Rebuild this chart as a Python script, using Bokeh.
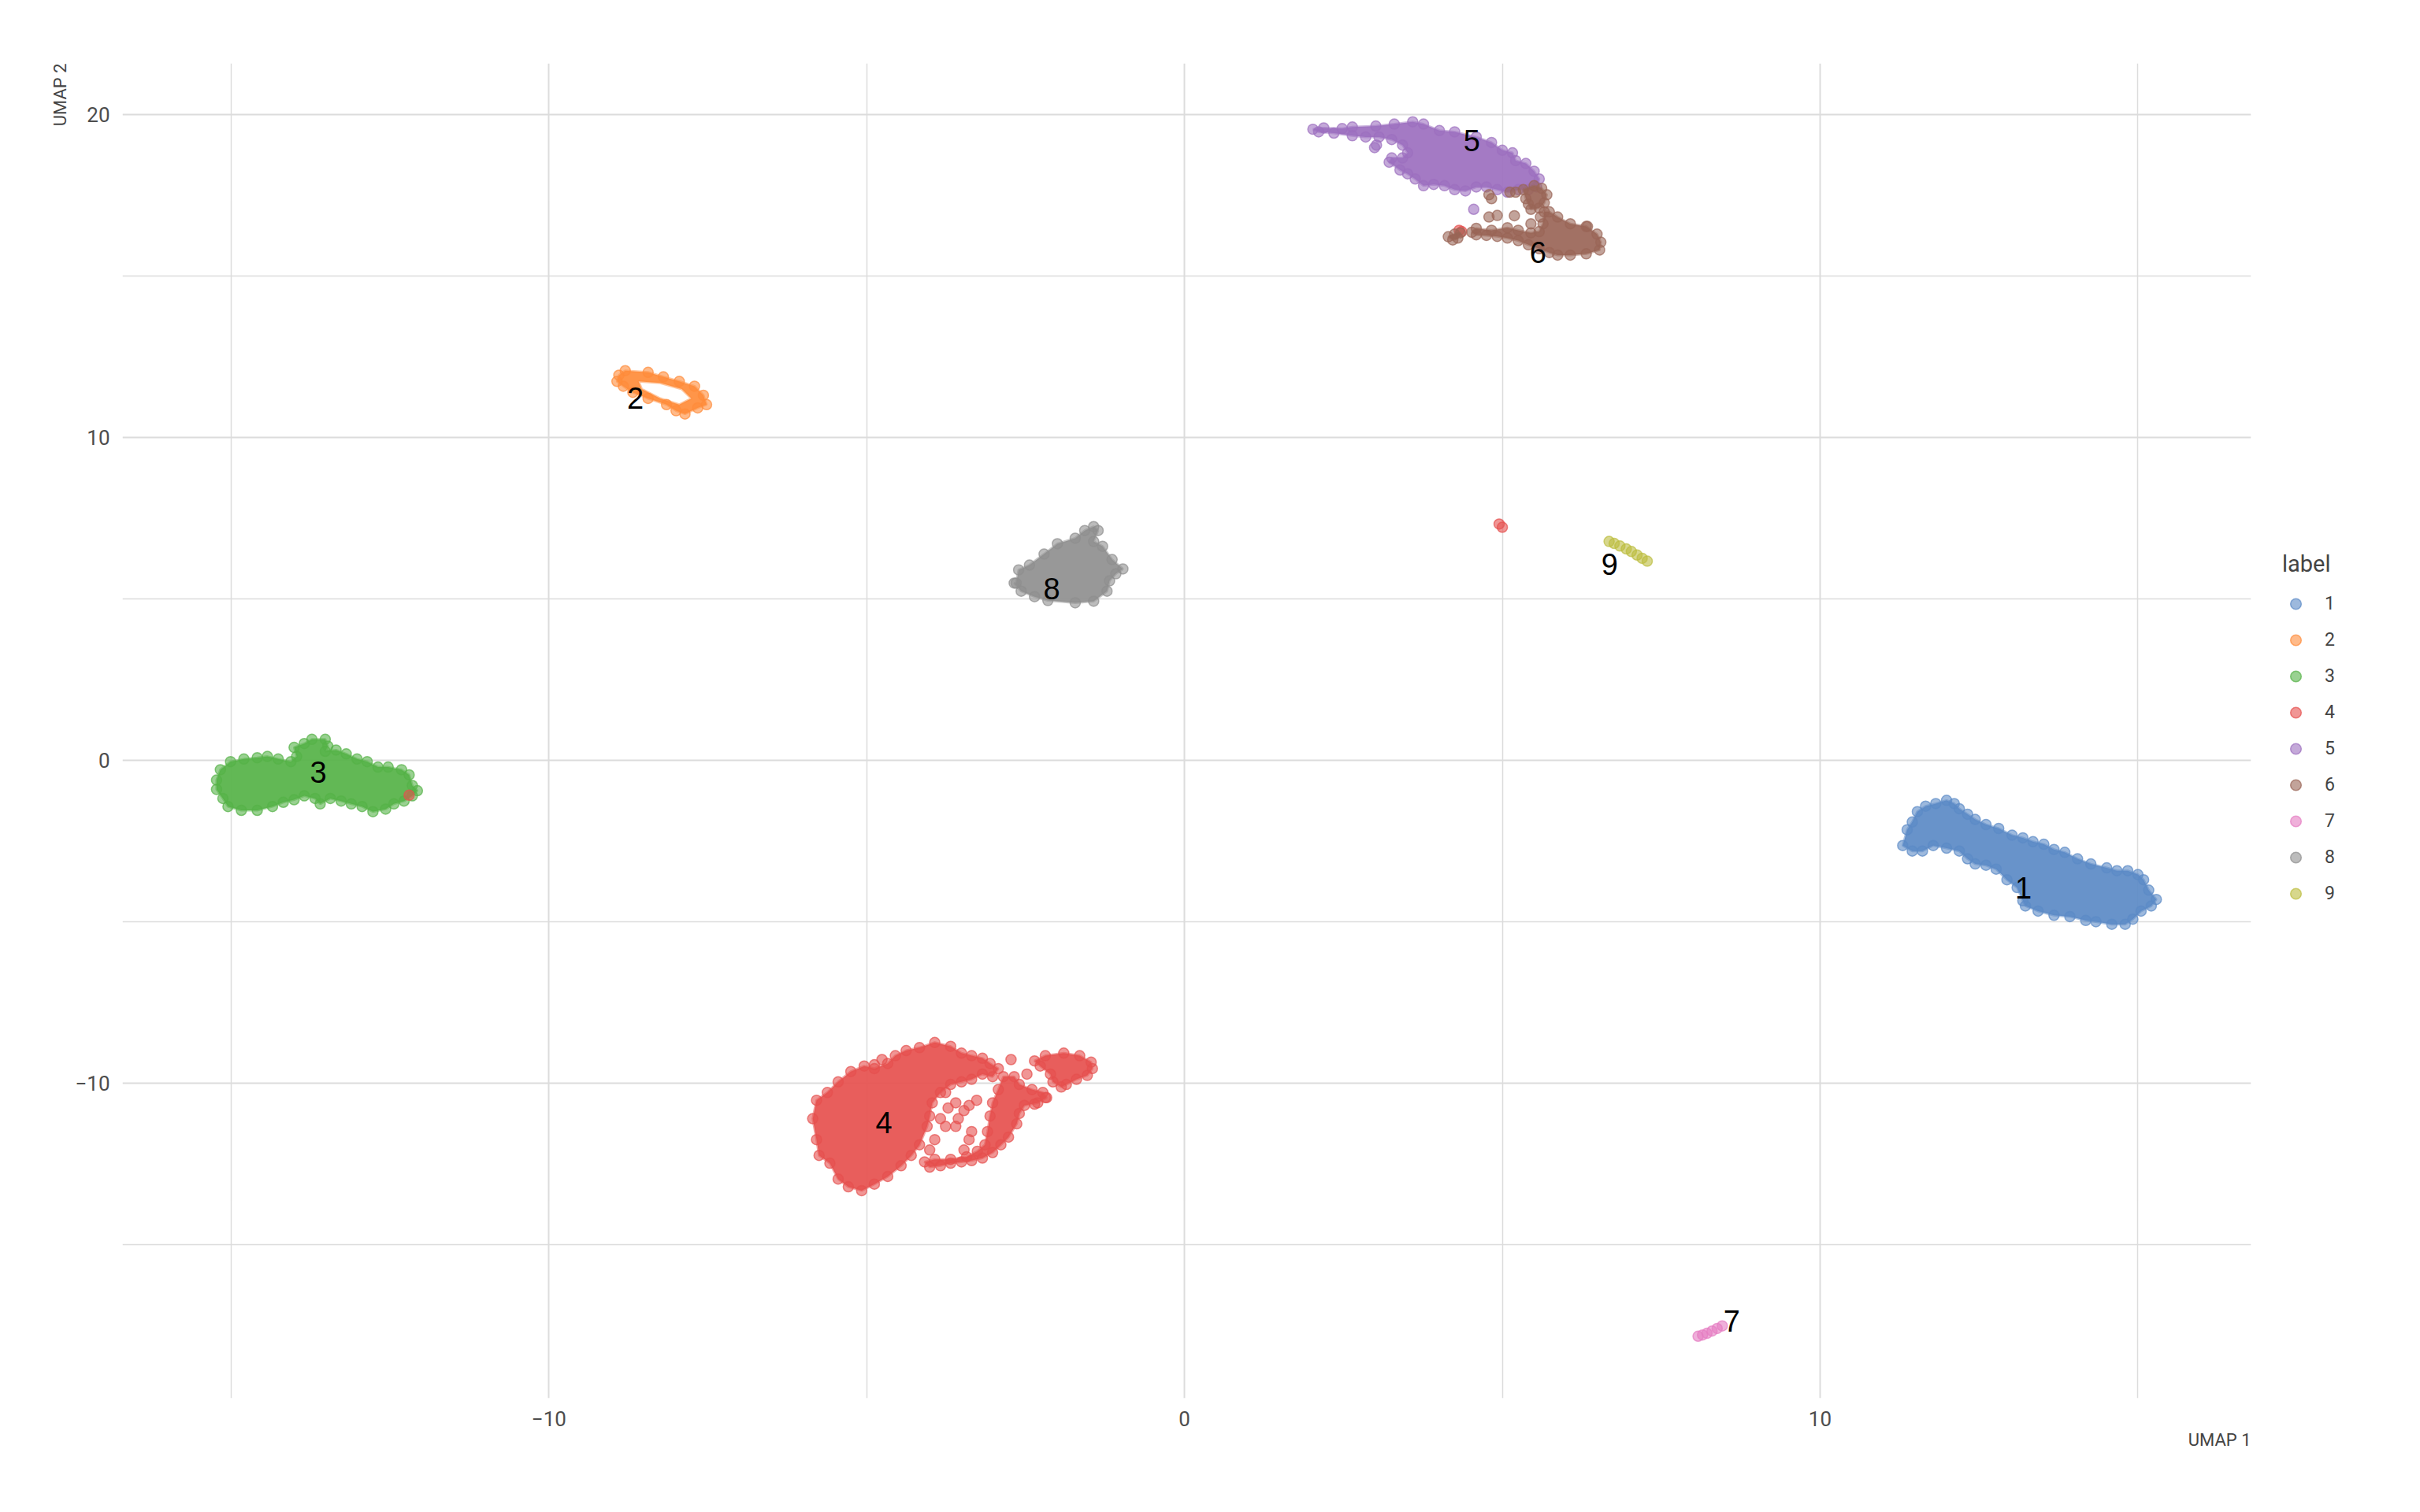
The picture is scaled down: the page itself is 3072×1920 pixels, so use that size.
from bokeh.plotting import figure
from bokeh.models import (Range1d, FixedTicker, Legend, LegendItem, Title)
from bokeh.core.properties import value
from bokeh.embed import file_html
from bokeh.resources import INLINE

# cluster ids and colours
labels = ["1", "2", "3", "4", "5", "6", "7", "8", "9"]
colors = ["#5B8AC6", "#FF8C3A", "#55B247", "#E6504E", "#9C6FBF",
          "#9A6557", "#E57CC2", "#8F8F8F", "#BCBD3F"]

# cluster outlines (UMAP 1, UMAP 2)
c1_x = [11.37, 11.45, 11.53, 11.66, 11.82, 11.99, 12.11, 12.19, 12.32, 12.44, 12.61, 12.81,
        13.02, 13.19, 13.35, 13.52, 13.68, 13.85, 14.05, 14.26, 14.51, 14.67, 14.84, 15.00,
        15.09, 15.17, 15.29, 15.21, 15.05, 14.92, 14.80, 14.59, 14.34, 14.18, 13.93, 13.68,
        13.43, 13.23, 13.19, 13.10, 12.94, 12.77, 12.61, 12.44, 12.32, 12.19, 11.99, 11.78,
        11.61, 11.45, 11.30]
c1_y = [-2.15, -1.91, -1.59, -1.42, -1.34, -1.24, -1.34, -1.50, -1.67, -1.83, -1.99, -2.11,
        -2.32, -2.40, -2.52, -2.60, -2.76, -2.85, -3.05, -3.21, -3.33, -3.42, -3.42, -3.54,
        -3.70, -4.02, -4.31, -4.51, -4.67, -4.92, -5.08, -5.08, -5.00, -4.96, -4.84, -4.80,
        -4.67, -4.51, -4.35, -3.94, -3.70, -3.37, -3.25, -3.21, -3.05, -2.81, -2.72, -2.64,
        -2.81, -2.81, -2.64]

c2_x = [-8.90, -8.80, -8.44, -8.20, -7.95, -7.71, -7.57, -7.52, -7.66, -7.86, -8.00, -8.15,
        -8.44, -8.68, -8.83, -8.93]
c2_y = [11.93, 12.07, 12.02, 11.88, 11.74, 11.59, 11.31, 11.02, 10.92, 10.73, 10.83, 11.02,
        11.21, 11.40, 11.59, 11.74]
c2_hole_x = [-8.59, -8.25, -7.91, -7.76, -7.95, -8.25, -8.54]
c2_hole_y = [11.74, 11.69, 11.50, 11.21, 11.02, 11.21, 11.50]

c3_x = [-15.23, -15.17, -15.01, -14.80, -14.59, -14.43, -14.26, -14.06, -13.97, -14.01,
        -13.85, -13.73, -13.52, -13.48, -13.52, -13.35, -13.19, -13.02, -12.86, -12.69,
        -12.53, -12.32, -12.20, -12.15, -12.07, -12.15, -12.28, -12.44, -12.57, -12.77,
        -12.94, -13.11, -13.27, -13.44, -13.60, -13.68, -13.85, -14.01, -14.18, -14.35,
        -14.59, -14.84, -15.05, -15.13, -15.23]
c3_y = [-0.61, -0.29, -0.04, 0.04, 0.08, 0.12, 0.04, -0.04, 0.12, 0.40,
        0.52, 0.65, 0.65, 0.44, 0.28, 0.32, 0.20, 0.04, -0.04, -0.21,
        -0.21, -0.29, -0.45, -0.78, -0.94, -1.10, -1.26, -1.35, -1.51, -1.59,
        -1.43, -1.35, -1.26, -1.18, -1.35, -1.18, -1.10, -1.22, -1.30, -1.43,
        -1.55, -1.55, -1.43, -1.18, -0.90]

# cluster 4: dense blob, crescent, right lobe
c4a_x = [-5.85, -5.79, -5.62, -5.45, -5.25, -5.04, -4.88, -4.67, -4.55, -4.38, -4.17, -3.93,
         -3.68, -3.51, -3.35, -3.18, -3.06, -2.93, -3.02, -3.18, -3.35, -3.51, -3.68, -3.84,
         -3.97, -4.01, -4.05, -4.17, -4.30, -4.46, -4.67, -4.88, -5.08, -5.29, -5.45, -5.58,
         -5.75, -5.79]
c4a_y = [-11.10, -10.53, -10.29, -9.96, -9.64, -9.47, -9.55, -9.39, -9.15, -8.99, -8.90, -8.74,
         -8.86, -9.07, -9.15, -9.23, -9.39, -9.55, -9.80, -9.72, -9.88, -9.96, -10.04, -10.29,
         -10.61, -11.02, -11.34, -11.91, -12.24, -12.56, -12.89, -13.13, -13.33, -13.21, -12.97,
         -12.48, -12.24, -11.75]
c4b_x = [-2.85, -2.68, -2.60, -2.40, -2.23, -2.17, -2.31, -2.52, -2.60, -2.64, -2.77, -2.89,
         -3.02, -3.18, -3.35, -3.51, -3.68, -3.84, -4.01, -4.09, -3.93, -3.68, -3.43, -3.26,
         -3.14, -3.10, -3.06, -3.02, -2.93]
c4b_y = [-9.80, -9.80, -10.04, -10.20, -10.29, -10.45, -10.61, -10.69, -10.94, -11.26, -11.67,
         -11.91, -12.15, -12.32, -12.40, -12.44, -12.48, -12.56, -12.60, -12.44, -12.36, -12.36,
         -12.28, -12.11, -11.91, -11.50, -11.02, -10.61, -10.20]
c4c_x = [-2.36, -2.19, -1.90, -1.65, -1.47, -1.45, -1.53, -1.70, -1.86, -1.94, -2.07, -2.11, -2.27]
c4c_y = [-9.31, -9.15, -9.07, -9.15, -9.35, -9.55, -9.76, -9.88, -10.04, -10.12, -9.96, -9.72, -9.47]
c4_extra_x = [-3.76, -3.60, -3.47, -3.39, -3.27, -3.72, -3.56, -3.60, -3.76, -3.35, -3.39, -3.47,
              -3.93, -4.01, -3.84, -2.73, -2.48, -2.36, -2.19, -4.76, -4.88,
              4.32, 4.36, 4.95, 5.00, -12.20]
c4_extra_y = [-10.29, -10.61, -10.85, -10.69, -10.53, -10.77, -11.10, -11.34, -11.34, -11.50,
              -11.75, -12.07, -11.75, -12.07, -11.10, -9.27, -9.72, -10.65, -10.45, -9.27, -9.43,
              16.42, 16.38, 7.32, 7.22, -1.08]

c5_x = [2.02, 2.19, 2.48, 2.64, 3.01, 3.30, 3.59, 3.76, 4.01, 4.25, 4.59, 4.83, 5.00, 5.16,
        5.21, 5.37, 5.50, 5.58, 5.54, 5.41, 5.25, 5.08, 4.92, 4.75, 4.59, 4.42, 4.25, 4.09,
        3.92, 3.76, 3.63, 3.51, 3.39, 3.22, 3.26, 3.43, 3.51, 3.43, 3.26, 3.06, 2.85, 2.64,
        2.35, 2.11]
c5_y = [19.55, 19.59, 19.57, 19.62, 19.65, 19.71, 19.78, 19.71, 19.51, 19.47, 19.31, 19.14,
        18.90, 18.82, 18.58, 18.49, 18.25, 18.01, 17.76, 17.68, 17.68, 17.60, 17.68, 17.76,
        17.76, 17.64, 17.68, 17.80, 17.84, 17.80, 18.01, 18.17, 18.29, 18.53, 18.66, 18.66,
        18.82, 19.06, 19.23, 19.31, 19.31, 19.35, 19.43, 19.47]
c5_extra_x = [4.55, 2.99, 3.02]
c5_extra_y = [17.07, 18.98, 19.06]

# cluster 6: upper lobe, main body with tail, small left piece
c6a_x = [5.33, 5.50, 5.62, 5.70, 5.66, 5.58, 5.45, 5.41, 5.37]
c6a_y = [17.68, 17.80, 17.72, 17.52, 17.27, 17.11, 17.07, 17.23, 17.40]
c6b_x = [5.66, 5.74, 5.87, 6.07, 6.32, 6.49, 6.55, 6.53, 6.32, 6.07, 5.87, 5.74, 5.58, 5.41,
         5.25, 5.08, 4.92, 4.75, 4.59, 4.52, 4.59, 4.83, 5.08, 5.25, 5.45, 5.58, 5.64]
c6b_y = [16.99, 16.99, 16.83, 16.62, 16.54, 16.30, 16.05, 15.81, 15.69, 15.65, 15.65, 15.73,
         15.85, 15.97, 16.10, 16.18, 16.23, 16.26, 16.28, 16.36, 16.48, 16.42, 16.50, 16.42,
         16.34, 16.38, 16.62]
c6c_x = [4.15, 4.25, 4.34, 4.30, 4.22]
c6c_y = [16.22, 16.30, 16.34, 16.18, 16.12]
c6_extra_x = [4.79, 4.83, 5.12, 5.21, 4.79, 4.92, 5.19, 5.45, 5.60, 6.34]
c6_extra_y = [17.52, 17.40, 17.60, 17.60, 16.83, 16.88, 16.87, 16.62, 16.83, 16.54]

c7_x = [8.08, 8.15, 8.22, 8.30, 8.38, 8.46]
c7_y = [-17.84, -17.80, -17.75, -17.68, -17.60, -17.52]

c8_x = [-2.65, -2.61, -2.44, -2.21, -2.00, -1.72, -1.57, -1.43, -1.36, -1.43, -1.29, -1.14,
        -0.97, -1.08, -1.18, -1.22, -1.43, -1.72, -2.15, -2.36, -2.57, -2.68]
c8_y = [5.49, 5.90, 6.05, 6.39, 6.71, 6.88, 7.12, 7.24, 7.12, 6.78, 6.63, 6.22,
        5.93, 5.78, 5.56, 5.24, 4.93, 4.88, 4.95, 5.07, 5.24, 5.49]

c9_x = [6.68, 6.76, 6.85, 6.95, 7.03, 7.12, 7.20, 7.28]
c9_y = [6.78, 6.72, 6.64, 6.55, 6.47, 6.36, 6.26, 6.17]

# cluster label positions
lab_x = [13.20, -8.64, -13.63, -4.73, 4.52, 5.56, 8.61, -2.09, 6.69]
lab_y = [-3.94, 11.21, -0.37, -11.22, 19.19, 15.73, -17.36, 5.32, 6.07]

x_lo, x_hi = -16.71, 16.78
y_lo, y_hi = -19.76, 21.59

ui_font = "Roboto"

p = figure(frame_width=2702, frame_height=1695, min_border_left=155, min_border_top=80,
           min_border_right=200, min_border_bottom=40,
           x_range=Range1d(x_lo, x_hi), y_range=Range1d(y_lo, y_hi),
           output_backend="svg", toolbar_location=None)
p.outline_line_color = None
p.background_fill_color = "white"

p.xaxis.ticker = FixedTicker(ticks=[-10, 0, 10], minor_ticks=[-15, -5, 5, 15])
p.yaxis.ticker = FixedTicker(ticks=[-10, 0, 10, 20], minor_ticks=[-15, -5, 5, 15])
for ax in (p.xaxis, p.yaxis):
    ax.axis_line_color = None
    ax.major_tick_line_color = None
    ax.minor_tick_line_color = None
    ax.major_label_text_font = ui_font
    ax.major_label_text_font_size = "26px"
    ax.major_label_text_color = "#4D4D4D"
    ax.major_label_standoff = 10
for g in (p.xgrid, p.ygrid):
    g.grid_line_color = "#DCDCDC"
    g.grid_line_width = 2
    g.minor_grid_line_color = "#DCDCDC"
    g.minor_grid_line_width = 1.5

polys = {
    "1": [(c1_x, c1_y)],
    "3": [(c3_x, c3_y)],
    "4": [(c4a_x, c4a_y), (c4b_x, c4b_y), (c4c_x, c4c_y)],
    "5": [(c5_x, c5_y)],
    "6": [(c6a_x, c6a_y), (c6b_x, c6b_y), (c6c_x, c6c_y)],
    "8": [(c8_x, c8_y)],
}
extras = {
    "2": (c2_x, c2_y),
    "4": (c4_extra_x, c4_extra_y),
    "5": (c5_extra_x, c5_extra_y),
    "6": (c6_extra_x, c6_extra_y),
    "7": (c7_x, c7_y),
    "9": (c9_x, c9_y),
}

items = []
for lab, col in zip(labels, colors):
    px, py = [], []
    shapes = polys.get(lab, [])
    if shapes:
        p.patches([s[0] for s in shapes], [s[1] for s in shapes],
                  fill_color=col, fill_alpha=0.92, line_color=col, line_alpha=0.5, line_width=3)
        for sx, sy in shapes:
            px += sx
            py += sy
    if lab == "2":
        # ring-shaped cluster
        p.multi_polygons(xs=[[[c2_x, c2_hole_x]]], ys=[[[c2_y, c2_hole_y]]],
                         fill_color=col, fill_alpha=0.92, line_color=col, line_alpha=0.5,
                         line_width=3)
    if lab in extras:
        px += extras[lab][0]
        py += extras[lab][1]
    r = p.scatter(px, py, size=13, fill_color=col, fill_alpha=0.6,
                  line_color=col, line_alpha=0.7, line_width=1.5)
    items.append(LegendItem(label=lab, renderers=[r]))

p.text(lab_x, lab_y, text=labels, text_font=value("Liberation Sans"),
       text_font_size="38px", text_color="black", text_align="center",
       text_baseline="middle")

legend = Legend(items=items, location="center_left", title="label",
                title_text_font=ui_font, title_text_font_size="29px",
                title_text_font_style="normal", title_standoff=11,
                label_text_font=ui_font, label_text_font_size="23px",
                glyph_width=34, glyph_height=34, label_height=46, spacing=0,
                label_standoff=20, margin=40, padding=14,
                border_line_color=None, background_fill_alpha=0)
p.add_layout(legend, "right")

xlab = Title(text="UMAP 1", align="right", text_font=ui_font, text_font_size="22px",
             text_font_style="normal", standoff=0)
ylab = Title(text="UMAP 2", align="right", text_font=ui_font, text_font_size="22px",
             text_font_style="normal", standoff=8)
p.add_layout(xlab, "below")
p.add_layout(ylab, "left")

open("out.html", "w").write(file_html(p, INLINE))
